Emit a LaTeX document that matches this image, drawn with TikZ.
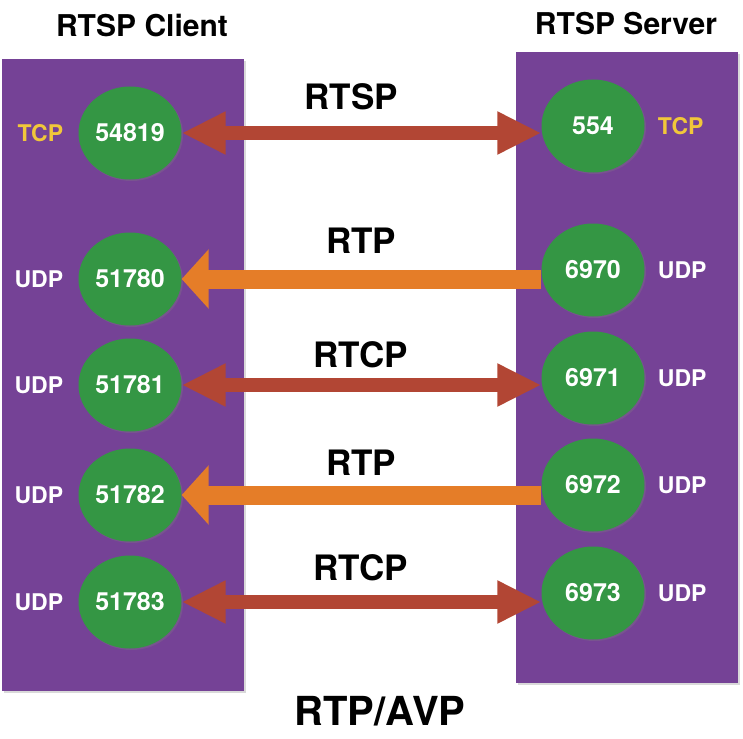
\documentclass[tikz,border=0pt]{standalone}
\usepackage{fontspec}
\setmainfont{TeX Gyre Heros}
\usetikzlibrary{arrows.meta,shapes.geometric,positioning,shadows}
\definecolor{panel}{RGB}{117,66,150}
\definecolor{portgreen}{RGB}{52,150,68}
\definecolor{ctrlred}{RGB}{178,70,52}
\definecolor{mediaorange}{RGB}{229,125,40}
\definecolor{tcpyellow}{RGB}{241,199,58}

\begin{document}
\begin{tikzpicture}[x=1pt,y=-1pt,
  port/.style={ellipse,fill=portgreen,minimum width=103pt,minimum height=93pt,inner sep=0pt,
    text=white,font=\bfseries\fontsize{25}{25}\selectfont,
    drop shadow={shadow xshift=1.5pt,shadow yshift=-1.5pt,opacity=.3}},
  side/.style={inner sep=0pt,text=white,font=\bfseries\fontsize{23}{23}\selectfont},
  proto/.style={inner sep=0pt,font=\bfseries\fontsize{35}{35}\selectfont},
  twoway/.style={ctrlred,line width=14pt,{Triangle[length=44pt,width=40pt]}-{Triangle[length=44pt,width=40pt]}},
  oneway/.style={mediaorange,line width=19pt,{Triangle[length=27pt,width=58pt]}-},
  node distance=15pt]
\useasboundingbox (0,0) rectangle (743,738);
% client and server panels
\fill[panel,drop shadow={shadow xshift=2pt,shadow yshift=-2pt,opacity=.3}] (2,59) rectangle (244,691);
\fill[panel,drop shadow={shadow xshift=2pt,shadow yshift=-2pt,opacity=.3}] (516,52) rectangle (738,683);
\node[inner sep=0pt,font=\bfseries\fontsize{30}{30}\selectfont] (client) at (142,26) {RTSP Client};
\node[inner sep=0pt,font=\bfseries\fontsize{30}{30}\selectfont] (server) at (626,24) {RTSP Server};

% RTSP control connection
\node[port] (c1) at (130,133) {54819};
\node[port] (s1) at (593,126) {554};
\node[side,text=tcpyellow,left=of c1] (ct1) {TCP};
\node[side,text=tcpyellow,right=13pt of s1] (st1) {TCP};
\draw[twoway] (c1.east) -- (c1.east -| s1.west);
\node[proto] (p1) at (351,97) {RTSP};

% media and control channels
\foreach \i/\cy/\sy/\cp/\sp/\pr/\kind/\ly in {
  2/279/270/51780/6970/RTP/oneway/241,
  3/385/378/51781/6971/RTCP/twoway/355,
  4/495/485/51782/6972/RTP/oneway/463,
  5/602/593/51783/6973/RTCP/twoway/568}{
  \node[port] (c\i) at (130,\cy) {\cp};
  \node[port] (s\i) at (593,\sy) {\sp};
  \node[side,left=of c\i] (cu\i) {UDP};
  \node[side,right=13pt of s\i] (su\i) {UDP};
  \draw[\kind] (c\i.east) -- (c\i.east -| s\i.west);
  \node[proto] (p\i) at (361,\ly) {\pr};
}

\node[inner sep=0pt,font=\bfseries\fontsize{40}{40}\selectfont] (profile) at (380,711) {RTP/AVP};
\end{tikzpicture}
\end{document}
